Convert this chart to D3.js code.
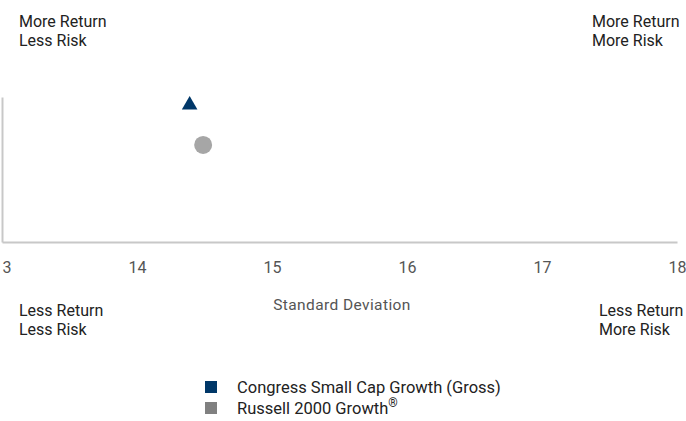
<!DOCTYPE html>
<html>
<head>
<meta charset="utf-8">
<script src="https://cdn.jsdelivr.net/npm/d3@7"></script>
<style>
  body { margin: 0; background: #fff; }
  text { font-family: Roboto, "Noto Sans", sans-serif; }
  .quad { font-size: 16px; fill: #222; }
  .tick text { font-size: 16px; fill: #555; }
</style>
</head>
<body>
<div id="chart"></div>
<script>
// data
var seriesNames = ["Congress Small Cap Growth (Gross)", "Russell 2000 Growth"];
var stdDev = [14.39, 14.49];
var returns = [11.23, 7.37];
var xTicks = [13, 14, 15, 16, 17, 18];
var xDomain = [13, 18];
var yDomain = [-2, 12];
var colors = ["#003768", "#a6a6a6"];
var legendColors = ["#003768", "#808080"];

var width = 686, height = 421;
var margin = {top: 97, right: 9, bottom: 179, left: 2};
var w = width - margin.left - margin.right,
    h = height - margin.top - margin.bottom;

var svg = d3.select("#chart")
    .append("svg")
    .attr("width", width)
    .attr("height", height);

var g = svg.append("g")
    .attr("transform", "translate(" + margin.left + "," + margin.top + ")");

var xScale = d3.scaleLinear().domain(xDomain).range([0, w]);
var yScale = d3.scaleLinear().domain(yDomain).range([h, 0]);

// X axis
var xAxis = d3.axisBottom(xScale).tickValues(xTicks).tickSize(0).tickPadding(20)
    .tickFormat(d3.format("d"));
var xg = g.append("g")
    .attr("transform", "translate(0," + h + ")")
    .call(xAxis);
xg.select(".domain").attr("stroke", "#c8c8c8").attr("stroke-width", 2);
// keep the last label inside the frame
xg.selectAll(".tick text").filter(function(d) { return d === 18; })
    .attr("text-anchor", "end").attr("dx", 9);

// Y axis - just the line
var yAxis = d3.axisLeft(yScale).ticks(0).tickSize(0);
var yg = g.append("g").call(yAxis);
yg.select(".domain").attr("stroke", "#c8c8c8").attr("stroke-width", 2);

// axis title
g.append("text")
    .attr("x", 340)
    .attr("y", h + 68)
    .attr("text-anchor", "middle")
    .style("font-size", "15.5px")
    .style("letter-spacing", "0.4px")
    .style("fill", "#555")
    .text("Standard Deviation");

// points
var symbols = [d3.symbolTriangle, d3.symbolCircle];
var sizes = [105, 254];
g.selectAll(".pt")
    .data(seriesNames)
    .enter()
    .append("path")
    .attr("class", "pt")
    .attr("transform", function(d, i) {
        return "translate(" + xScale(stdDev[i]) + "," + yScale(returns[i]) + ")";
    })
    .attr("d", function(d, i) { return d3.symbol().type(symbols[i]).size(sizes[i])(); })
    .attr("fill", function(d, i) { return colors[i]; });

// quadrant labels
var quads = [
    {lines: ["More Return", "Less Risk"], x: 19, y: 27},
    {lines: ["More Return", "More Risk"], x: 592, y: 27},
    {lines: ["Less Return", "Less Risk"], x: 19, y: 316},
    {lines: ["Less Return", "More Risk"], x: 599, y: 316}
];
quads.forEach(function(q) {
    var t = svg.append("text")
        .attr("class", "quad")
        .attr("x", q.x)
        .attr("y", q.y);
    q.lines.forEach(function(l, i) {
        t.append("tspan").attr("x", q.x).attr("dy", i === 0 ? 0 : 19).text(l);
    });
});

// legend
var legend = svg.append("g").attr("transform", "translate(205,381)");
seriesNames.forEach(function(name, i) {
    var row = legend.append("g").attr("transform", "translate(0," + (i * 21) + ")");
    row.append("rect")
        .attr("width", 12)
        .attr("height", 12)
        .attr("fill", legendColors[i]);
    var t = row.append("text")
        .attr("x", 32)
        .attr("y", 12)
        .style("font-size", "16.5px")
        .style("fill", "#222")
        .text(name);
    if (i === 1) {
        t.append("tspan")
            .attr("dy", -7)
            .style("font-size", "12px")
            .text("\u00AE");
    }
});
</script>
</body>
</html>
